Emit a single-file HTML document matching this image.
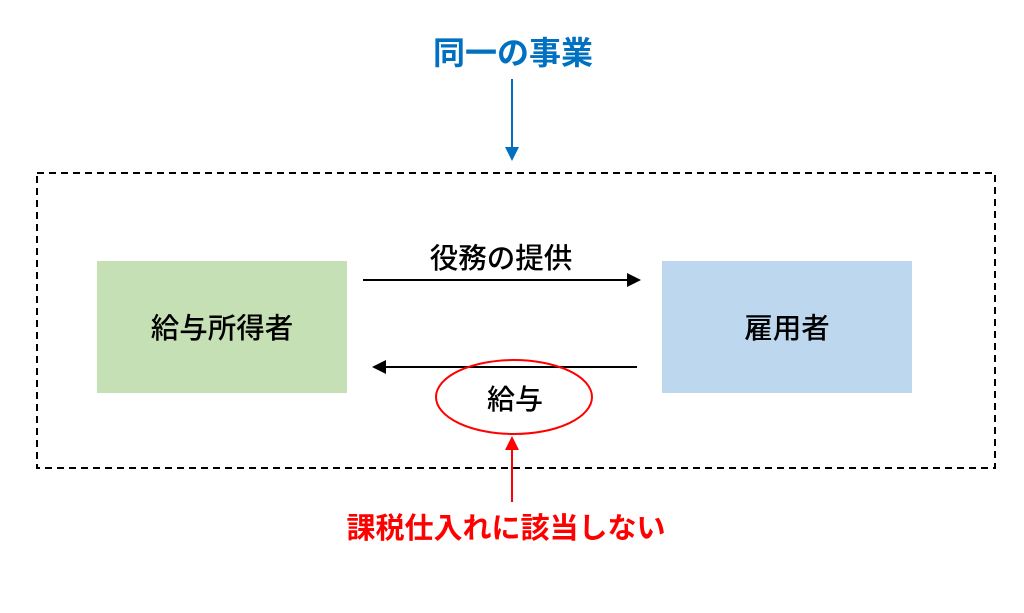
<!DOCTYPE html>
<html><head><meta charset="utf-8"><style>
html,body{margin:0;padding:0;background:#fff;}
body{width:1024px;height:608px;overflow:hidden;}
svg text{font-family:"Liberation Sans","Noto Sans CJK JP",sans-serif;}
</style></head><body>
<svg width="1024" height="608" viewBox="0 0 1024 608" xmlns="http://www.w3.org/2000/svg">
<text x="513" y="64" font-size="32" font-weight="bold" fill="#0070C0" text-anchor="middle">同一の事業</text>
<line x1="512" y1="79" x2="512" y2="148" stroke="#0070C0" stroke-width="2"/>
<polygon points="505,147 519,147 512,161" fill="#0070C0"/>
<rect x="37" y="173" width="958" height="295" fill="none" stroke="#000" stroke-width="2" stroke-dasharray="7,5"/>
<rect x="97" y="261" width="250" height="132" fill="#C5E0B4"/>
<rect x="662" y="261" width="250" height="132" fill="#BDD7EE"/>
<text x="222" y="338" font-size="28.5" font-weight="500" fill="#000" text-anchor="middle">給与所得者</text>
<text x="787" y="338" font-size="28.5" font-weight="500" fill="#000" text-anchor="middle">雇用者</text>
<text x="501" y="268" font-size="28.5" font-weight="500" fill="#000" text-anchor="middle">役務の提供</text>
<line x1="363" y1="280" x2="628" y2="280" stroke="#000" stroke-width="2"/>
<polygon points="627,273 641,280 627,287" fill="#000"/>
<line x1="637" y1="367" x2="385" y2="367" stroke="#000" stroke-width="2"/>
<polygon points="386,360 372,367 386,374" fill="#000"/>
<ellipse cx="514" cy="397" rx="78" ry="37" fill="none" stroke="#FF0000" stroke-width="2"/>
<text x="515" y="409" font-size="28" font-weight="500" fill="#000" text-anchor="middle">給与</text>
<line x1="512" y1="502" x2="512" y2="448" stroke="#FF0000" stroke-width="2"/>
<polygon points="505,450 519,450 512,436" fill="#FF0000"/>
<text x="506" y="538" font-size="29" font-weight="bold" fill="#FF0000" text-anchor="middle">課税仕入れに該当しない</text>
</svg>
</body></html>
